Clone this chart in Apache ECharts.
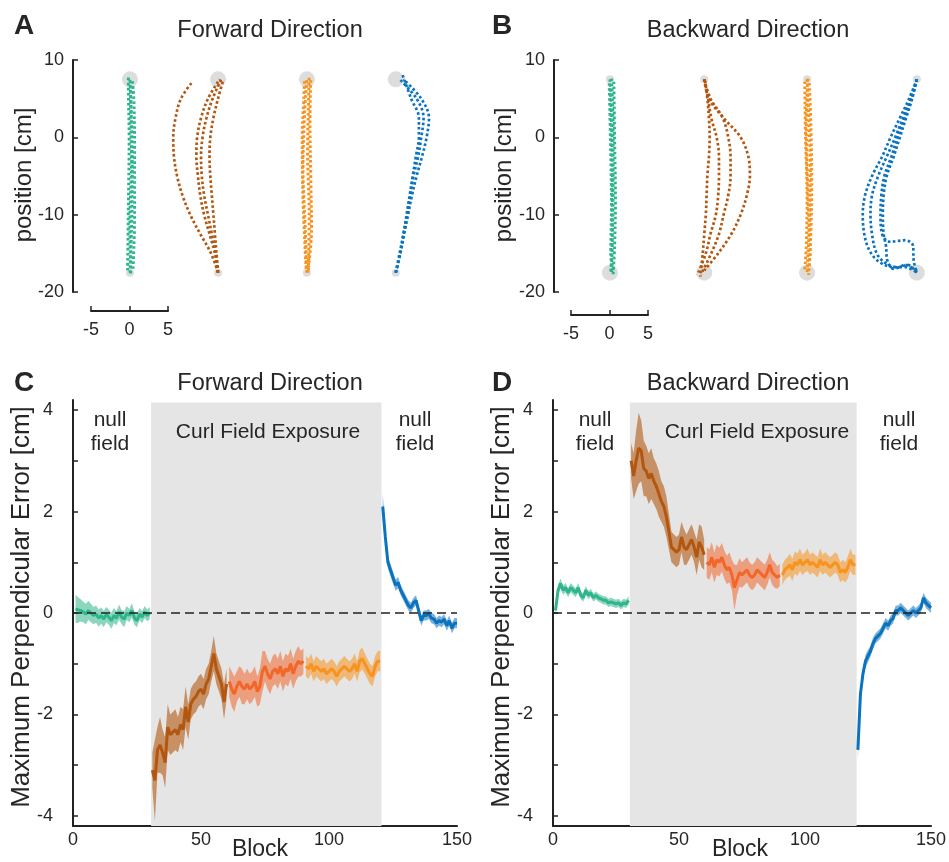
<!DOCTYPE html>
<html><head><meta charset="utf-8">
<script src="https://cdn.jsdelivr.net/npm/echarts@6/dist/echarts.min.js"></script>
<style>html,body{margin:0;padding:0;background:#fff}#c{width:949px;height:862px}</style>
</head><body><div id="c"></div>
<script>
const FONT = "'Liberation Sans', Arial, Helvetica, sans-serif";
const TXT = '#262626';
const cGreen = '#2eb58c', cBrown = '#b3560f', cRed = '#f2662a', cOrange = '#f7931e', cBlue = '#0b73be';

// ---------- Panels A/B : hand trajectories (dx from column, y) [cm] ----------
const targetNear = -17.5, targetFar = 7.5;
const fwdColumns = [0, 11.4, 22.9, 34.4];
const bwdColumns = [0, 12.2, 25.5, 39.7];

const fwdNullTraj = [
  [[0,-17.5],[0.2,-12],[0.3,-5],[0.2,2],[0,7.5]],
  [[0.4,-17],[0.6,-10],[0.6,-2],[0.5,5],[0.3,7.5]],
  [[-0.3,-17.2],[-0.2,-9],[-0.1,0],[-0.2,6.5],[-0.2,7.8]],
  [[0.1,-17.6],[0.0,-11],[0.2,-3],[0.1,4],[0.1,7.2]]
];
const fwdCurlEarlyTraj = [
  [[0,-17.5],[-0.9,-15],[-2.3,-12.5],[-3.6,-10],[-4.6,-7.5],[-5.3,-5],[-5.7,-2.5],[-5.8,0],[-5.5,2.5],[-4.8,5],[-3.3,7.2]],
  [[0,-17.5],[-0.4,-15],[-1.1,-12.5],[-1.8,-10],[-2.3,-7.5],[-2.6,-5],[-2.8,-2.5],[-2.7,0],[-2.2,2.5],[-1.3,5],[0.2,7.5]],
  [[0,-17.5],[-0.3,-15],[-0.8,-12.5],[-1.3,-10],[-1.8,-7.5],[-2.1,-5],[-2.2,-2.5],[-2.0,0],[-1.5,2.5],[-0.7,5],[0.4,7.5]],
  [[0,-17.5],[-0.2,-15],[-0.4,-12.5],[-0.6,-10],[-0.8,-7.5],[-1.0,-5],[-1.1,-2.5],[-1.0,0],[-0.6,2.5],[0.0,5],[0.7,7.5]]
];
const fwdCurlLateTraj = [
  [[0,-17.5],[-0.2,-12],[-0.5,-4],[-0.3,3],[0,7.5]],
  [[0.2,-17.2],[0.3,-10],[0.1,-2],[0.2,4],[0.3,7.8]],
  [[-0.1,-17],[-0.5,-8],[-0.6,0],[-0.4,5],[-0.3,7.3]],
  [[0.1,-17.5],[0.6,-12],[0.5,-5],[0.4,2],[0.5,7.6]]
];
const fwdWashTraj = [
  [[0,-17.5],[0.6,-15],[1.1,-12.5],[1.6,-10],[2.1,-7.5],[2.7,-5],[3.4,-2.5],[4.0,0],[4.3,2.5],[3.3,5],[1.0,7.5]],
  [[0,-17.5],[0.6,-15],[1.0,-12.5],[1.5,-10],[1.9,-7.5],[2.3,-5],[2.9,-2.5],[3.3,0],[3.6,2.5],[2.7,5],[0.5,7.5]],
  [[0,-17.5],[0.5,-15],[1.0,-12.5],[1.4,-10],[1.8,-7.5],[2.2,-5],[2.6,-2.5],[3.0,0],[3.0,2.5],[2.0,5],[0.8,8.3]]
];
const bwdNullTraj = [
  [[0,7.5],[0.2,2],[0.3,-5],[0.3,-12],[0.2,-17.5]],
  [[0.5,7.2],[0.6,0],[0.7,-8],[0.6,-14],[0.4,-17.8]],
  [[-0.1,7],[0.1,-2],[0.2,-9],[0.1,-15],[0.4,-17.2]],
  [[0.2,7.6],[0.4,1],[0.4,-6],[0.3,-13],[0.1,-17.4]]
];
const bwdCurlEarlyTraj = [
  [[0,7.5],[0.6,5],[2.5,2.5],[4.7,0],[5.7,-2.5],[5.9,-5],[5.5,-7.5],[4.7,-10],[3.5,-12.5],[1.8,-15],[0,-17.2]],
  [[0,7.5],[0.8,5],[2.4,2.5],[3.1,0],[3.4,-2.5],[3.4,-5],[3.1,-7.5],[2.5,-10],[1.9,-12.5],[0.9,-15],[-0.4,-17.7]],
  [[0,7.5],[0.5,5],[0.9,2.5],[1.6,0],[1.9,-2.5],[1.9,-5],[1.8,-7.5],[1.5,-10],[0.8,-12.5],[0.2,-15],[-0.9,-17.8]],
  [[0.1,7.3],[0.4,5],[0.6,2.5],[0.7,0],[0.6,-2.5],[0.4,-5],[0.3,-7.5],[0.2,-10],[0,-12.5],[-0.2,-15],[-0.5,-18]]
];
const bwdCurlLateTraj = [
  [[0,7.5],[0.2,3],[0.4,-4],[0.3,-11],[0,-17.5]],
  [[-0.3,7.2],[-0.2,0],[0,-8],[-0.1,-14],[-0.3,-17.2]],
  [[0.3,7],[0.5,1],[0.6,-6],[0.5,-12],[0.2,-17.8]],
  [[0.1,7.6],[-0.1,2],[0.2,-10],[0.4,-15],[0.1,-17.6]]
];
const bwdWashTraj = [
  [[0,7.5],[-1.0,5],[-2.2,2.5],[-3.4,0],[-4.5,-2.5],[-5.8,-5],[-6.7,-7.5],[-7.0,-10],[-6.8,-12.5],[-6.2,-14.5],[-5.0,-16],[-3.0,-16.8],[-1.5,-16.8],[0,-17.5]],
  [[0,7.5],[-0.8,5],[-1.8,2.5],[-2.8,0],[-3.9,-2.5],[-5.0,-5],[-5.8,-7.5],[-6.0,-10],[-5.8,-12.5],[-5.2,-15],[-4.0,-16.3],[-2.5,-16.8],[-1.2,-16.5],[0,-17.5]],
  [[0,7.5],[-0.6,5],[-1.4,2.5],[-2.2,0],[-3.0,-2.5],[-3.9,-5],[-4.3,-7.5],[-4.4,-10],[-4.3,-12.5],[-4.0,-14],[-3.8,-16],[-3.0,-17],[-1.5,-16.5],[0,-17.3]],
  [[0,7.5],[-0.7,5],[-1.6,2.5],[-2.5,0],[-3.3,-2.5],[-4.2,-5],[-4.6,-7.5],[-4.7,-10],[-4.5,-12.5],[-3.5,-13.5],[-1.5,-13.3],[-0.5,-14],[-0.4,-16],[0,-17.5]]
];

// ---------- Panels C/D : maximum perpendicular error per block ----------
const blocksNull = [1,2,3,4,5,6,7,8,9,10,11,12,13,14,15,16,17,18,19,20,21,22,23,24,25,26,27,28,29,30];
const blocksCurlEarly = blocksNull.map(b => b + 30);
const blocksCurlMid = blocksNull.map(b => b + 60);
const blocksCurlLate = blocksNull.map(b => b + 90);
const blocksWash = blocksNull.map(b => b + 120);

const fwdNullMean = [0.08,0.06,0.05,0.02,-0.02,0.05,0.0,-0.05,-0.02,-0.1,-0.05,-0.12,-0.03,-0.08,-0.15,-0.05,-0.1,0.02,-0.08,-0.12,0.0,-0.05,0.05,-0.1,-0.15,-0.02,-0.08,0.02,-0.05,0.0];
const fwdNullErr  = [0.28,0.25,0.22,0.2,0.2,0.19,0.18,0.17,0.17,0.17,0.16,0.16,0.15,0.15,0.16,0.15,0.14,0.15,0.14,0.16,0.14,0.13,0.14,0.13,0.13,0.12,0.12,0.12,0.12,0.12];
const fwdCurlEarlyMean = [-3.1,-3.3,-2.7,-2.6,-2.75,-2.95,-2.25,-2.4,-2.35,-2.3,-2.4,-2.2,-2.3,-1.85,-2.15,-1.8,-1.7,-1.65,-1.55,-1.5,-1.6,-1.4,-1.3,-1.05,-0.8,-1.1,-1.25,-1.4,-1.75,-1.4];
const fwdCurlEarlyErr  = [0.35,0.8,0.45,0.55,0.45,0.5,0.45,0.4,0.4,0.4,0.35,0.35,0.4,0.4,0.35,0.3,0.3,0.3,0.3,0.3,0.3,0.3,0.3,0.3,0.35,0.3,0.3,0.3,0.35,0.3];
const fwdCurlMidMean = [-1.35,-1.5,-1.6,-1.45,-1.35,-1.45,-1.5,-1.4,-1.5,-1.45,-1.35,-1.55,-1.45,-1.15,-1.05,-1.2,-1.3,-1.15,-1.1,-1.2,-1.05,-1.25,-1.1,-1.15,-1.0,-1.2,-1.05,-0.95,-1.0,-0.95];
const fwdCurlMidErr  = [0.3,0.35,0.35,0.3,0.3,0.35,0.3,0.3,0.3,0.3,0.3,0.3,0.35,0.4,0.3,0.3,0.3,0.3,0.3,0.3,0.3,0.3,0.3,0.3,0.3,0.3,0.3,0.3,0.25,0.25];
const fwdCurlLateMean = [-1.05,-1.1,-1.0,-1.15,-1.05,-1.1,-1.15,-1.1,-1.2,-1.15,-1.1,-1.15,-1.25,-1.15,-1.1,-1.05,-1.1,-1.15,-1.1,-1.0,-1.15,-0.95,-0.9,-1.0,-1.1,-1.2,-1.25,-1.05,-0.95,-0.95];
const fwdCurlLateErr  = [0.2,0.2,0.2,0.2,0.2,0.2,0.2,0.2,0.2,0.2,0.2,0.2,0.2,0.2,0.2,0.2,0.2,0.2,0.2,0.2,0.2,0.22,0.22,0.2,0.2,0.2,0.2,0.2,0.2,0.2];
const fwdWashMean = [2.1,1.5,1.0,0.85,0.7,0.55,0.6,0.45,0.35,0.25,0.15,0.1,0.2,0.25,0.05,-0.15,-0.05,-0.05,-0.02,-0.1,-0.12,-0.2,-0.15,-0.18,-0.12,-0.25,-0.15,-0.3,-0.2,-0.2];
const fwdWashErr  = [0.25,0.15,0.12,0.12,0.12,0.11,0.11,0.1,0.1,0.1,0.1,0.1,0.1,0.1,0.1,0.1,0.1,0.1,0.1,0.1,0.1,0.1,0.1,0.1,0.1,0.1,0.1,0.1,0.1,0.1];

const bwdNullMean = [0.05,0.45,0.58,0.45,0.5,0.4,0.5,0.45,0.4,0.5,0.35,0.3,0.45,0.35,0.4,0.3,0.35,0.3,0.28,0.25,0.25,0.2,0.22,0.2,0.18,0.2,0.15,0.2,0.18,0.25];
const bwdNullErr  = [0.1,0.1,0.1,0.09,0.09,0.09,0.09,0.09,0.09,0.09,0.08,0.08,0.08,0.08,0.08,0.08,0.08,0.08,0.08,0.08,0.08,0.08,0.08,0.08,0.08,0.08,0.08,0.08,0.08,0.08];
const bwdCurlEarlyMean = [3.0,2.7,3.0,3.25,3.2,2.85,2.8,2.65,2.75,2.6,2.5,2.35,2.2,2.1,1.9,1.6,1.3,1.25,1.2,1.25,1.5,1.3,1.25,1.35,1.45,1.3,1.1,1.4,1.3,1.15];
const bwdCurlEarlyErr  = [0.35,0.45,0.6,0.7,0.6,0.55,0.5,0.5,0.5,0.45,0.45,0.45,0.4,0.4,0.4,0.35,0.3,0.3,0.3,0.3,0.3,0.35,0.3,0.3,0.3,0.3,0.35,0.35,0.4,0.3];
const bwdCurlMidMean = [1.0,0.95,1.1,0.9,1.05,1.0,1.1,0.95,0.85,0.9,0.75,0.5,0.65,0.8,0.75,0.8,0.85,0.75,0.7,0.75,0.85,0.8,0.75,0.7,0.8,0.95,0.8,0.75,0.7,0.75];
const bwdCurlMidErr  = [0.3,0.3,0.3,0.3,0.3,0.28,0.28,0.28,0.28,0.3,0.3,0.45,0.3,0.28,0.25,0.25,0.25,0.25,0.25,0.25,0.25,0.25,0.25,0.25,0.25,0.25,0.25,0.25,0.22,0.22];
const bwdCurlLateMean = [0.75,0.85,0.9,0.95,0.85,1.0,0.95,1.05,0.95,1.0,1.05,0.95,1.0,0.95,0.9,1.05,0.95,1.0,0.95,0.9,0.95,1.0,0.95,0.8,0.85,0.8,0.9,1.05,0.95,0.95];
const bwdCurlLateErr  = [0.2,0.2,0.2,0.22,0.22,0.22,0.22,0.22,0.2,0.2,0.22,0.2,0.2,0.2,0.2,0.22,0.2,0.2,0.2,0.2,0.2,0.2,0.2,0.2,0.2,0.2,0.22,0.22,0.2,0.2];
const bwdWashMean = [-2.7,-1.6,-1.2,-0.95,-0.85,-0.75,-0.6,-0.5,-0.45,-0.4,-0.3,-0.2,-0.25,-0.15,-0.1,0.05,0.05,0.1,0.05,0.0,-0.05,0.0,0.05,0.0,0.05,0.1,0.3,0.2,0.15,0.1];
const bwdWashErr  = [0.2,0.12,0.12,0.12,0.12,0.11,0.11,0.1,0.1,0.1,0.1,0.1,0.1,0.1,0.1,0.1,0.1,0.1,0.1,0.1,0.1,0.1,0.1,0.1,0.1,0.1,0.1,0.1,0.1,0.1];

const curlStart = 30.5, curlEnd = 120.5;
const errTicks = [-4,-3,-2,-1,0,1,2,3,4];
const errLabels = [-4,-2,0,2,4];

// ---------- build ----------
const series = [];
function traj(gi, col, list, color, w) {
  list.forEach(pts => series.push({
    type: 'line', xAxisIndex: gi, yAxisIndex: gi, z: 5, silent: true,
    data: pts.map(p => [p[0] + col, p[1]]), smooth: 0.35, symbol: 'none',
    lineStyle: { color, width: w || 2.7, type: [2.6, 2.4] }
  }));
}
function targets(gi, cols, bigY, smallY) {
  series.push({ type: 'scatter', xAxisIndex: gi, yAxisIndex: gi, z: 1, silent: true,
    symbolSize: 16, data: cols.map(c => [c, bigY]), itemStyle: { color: '#d4d4d4' } });
  series.push({ type: 'scatter', xAxisIndex: gi, yAxisIndex: gi, z: 1, silent: true,
    symbolSize: 8, data: cols.map(c => [c, smallY]), itemStyle: { color: '#d4d4d4' } });
}
traj(0, fwdColumns[0], fwdNullTraj, cGreen, 3);
traj(0, fwdColumns[1], fwdCurlEarlyTraj, cBrown);
traj(0, fwdColumns[2], fwdCurlLateTraj, cOrange, 3);
traj(0, fwdColumns[3], fwdWashTraj, cBlue);
targets(0, fwdColumns, targetFar, targetNear);
traj(2, bwdColumns[0], bwdNullTraj, cGreen, 3);
traj(2, bwdColumns[1], bwdCurlEarlyTraj, cBrown);
traj(2, bwdColumns[2], bwdCurlLateTraj, cOrange, 3);
traj(2, bwdColumns[3], bwdWashTraj, cBlue);
targets(2, bwdColumns, targetNear, targetFar);

function band(gi, xs, mean, err, color, op) {
  const data = xs.map((x, i) => [x, mean[i] - err[i], mean[i] + err[i]]);
  series.push({
    type: 'custom', xAxisIndex: gi, yAxisIndex: gi, z: 3, silent: true, data,
    encode: { x: 0, y: [1, 2] },
    renderItem(params, api) {
      if (params.dataIndex !== 0) return null;
      const up = [], lo = [];
      data.forEach(d => { up.push(api.coord([d[0], d[2]])); lo.push(api.coord([d[0], d[1]])); });
      return { type: 'polygon', shape: { points: up.concat(lo.reverse()) }, style: { fill: color, opacity: op } };
    }
  });
  series.push({
    type: 'line', xAxisIndex: gi, yAxisIndex: gi, z: 4, silent: true, symbol: 'none',
    data: xs.map((x, i) => [x, mean[i]]), lineStyle: { color, width: 3 }
  });
}
function frame(gi) {
  series.push({ type: 'line', xAxisIndex: gi, yAxisIndex: gi, z: 0, silent: true, symbol: 'none',
    data: [], markArea: { silent: true, itemStyle: { color: '#e5e5e5' },
      data: [[{ coord: [curlStart, -4.2] }, { coord: [curlEnd, 4.15] }]] } });
  series.push({ type: 'line', xAxisIndex: gi, yAxisIndex: gi, z: 10, silent: true, symbol: 'none',
    data: [], markLine: { silent: true, symbol: 'none', label: { show: false },
      lineStyle: { color: '#222', width: 1.6, type: [9, 5] }, data: [{ yAxis: 0 }] } });
}
frame(4); frame(5);
band(4, blocksNull, fwdNullMean, fwdNullErr, cGreen, 0.55);
band(4, blocksCurlEarly, fwdCurlEarlyMean, fwdCurlEarlyErr, cBrown, 0.6);
band(4, blocksCurlMid, fwdCurlMidMean, fwdCurlMidErr, cRed, 0.55);
band(4, blocksCurlLate, fwdCurlLateMean, fwdCurlLateErr, cOrange, 0.55);
band(4, blocksWash, fwdWashMean, fwdWashErr, cBlue, 0.55);
band(5, blocksNull, bwdNullMean, bwdNullErr, cGreen, 0.55);
band(5, blocksCurlEarly, bwdCurlEarlyMean, bwdCurlEarlyErr, cBrown, 0.6);
band(5, blocksCurlMid, bwdCurlMidMean, bwdCurlMidErr, cRed, 0.55);
band(5, blocksCurlLate, bwdCurlLateMean, bwdCurlLateErr, cOrange, 0.55);
band(5, blocksWash, bwdWashMean, bwdWashErr, cBlue, 0.55);

const axLine = { show: true, onZero: false, lineStyle: { color: '#222', width: 2 } };
const tickIn = { show: true, inside: true, length: 5, lineStyle: { color: '#222', width: 1.5 } };
const lbl = (m) => ({ color: TXT, fontSize: 18, fontFamily: FONT, margin: m });

const grid = [
  { left: 73, top: 60, width: 366, height: 232 },
  { left: 91, top: 290, width: 77, height: 21 },
  { left: 554, top: 60, width: 390, height: 232 },
  { left: 571, top: 294, width: 77, height: 21 },
  { left: 73, top: 400, width: 384, height: 426 },
  { left: 553, top: 400, width: 385, height: 426 }
];
const xAxis = [
  { gridIndex: 0, type: 'value', min: -7.37, max: 40, show: false },
  { gridIndex: 1, type: 'value', min: -5, max: 5, interval: 5, axisLine: axLine, axisTick: tickIn, axisLabel: lbl(10), splitLine: { show: false } },
  { gridIndex: 2, type: 'value', min: -7.24, max: 43.21, show: false },
  { gridIndex: 3, type: 'value', min: -5, max: 5, interval: 5, axisLine: axLine, axisTick: tickIn, axisLabel: lbl(10), splitLine: { show: false } },
  { gridIndex: 4, type: 'value', min: 0, max: 150, interval: 50, axisLine: axLine, axisTick: { show: false }, axisLabel: lbl(5), splitLine: { show: false } },
  { gridIndex: 5, type: 'value', min: 0, max: 150, interval: 50, axisLine: axLine, axisTick: { show: false }, axisLabel: lbl(5), splitLine: { show: false } }
];
const errY = (gi) => ({ gridIndex: gi, type: 'value', min: -4.2, max: 4.2, axisLine: axLine,
  axisTick: Object.assign({}, tickIn, { customValues: errTicks }),
  axisLabel: Object.assign(lbl(20), { customValues: errLabels }), splitLine: { show: false } });
const yAxis = [
  { gridIndex: 0, type: 'value', min: -20, max: 10, interval: 10, axisLine: axLine, axisTick: tickIn, axisLabel: lbl(9), splitLine: { show: false } },
  { gridIndex: 1, type: 'value', min: 0, max: 1, show: false },
  { gridIndex: 2, type: 'value', min: -20, max: 10, interval: 10, axisLine: axLine, axisTick: tickIn, axisLabel: lbl(9), splitLine: { show: false } },
  { gridIndex: 3, type: 'value', min: 0, max: 1, show: false },
  errY(4), errY(5)
];

function txt(text, x, y, size, opts) {
  return Object.assign({ type: 'text', x, y, z: 100, silent: true, style: { text, fill: TXT,
    font: (opts && opts.bold ? 'bold ' : '') + size + 'px ' + FONT, textAlign: 'center', textVerticalAlign: 'middle' } },
    opts && opts.rot ? { rotation: Math.PI / 2 } : {});
}
const graphic = [
  txt('A', 24, 26, 28, { bold: true }), txt('B', 502, 26, 28, { bold: true }),
  txt('C', 24, 383, 28, { bold: true }), txt('D', 502, 383, 28, { bold: true }),
  txt('Forward Direction', 270, 31, 23.5), txt('Backward Direction', 748, 31, 23.5),
  txt('Forward Direction', 270, 384, 23.5), txt('Backward Direction', 748, 384, 23.5),
  txt('position [cm]', 24, 175, 24, { rot: true }), txt('position [cm]', 504, 175, 24, { rot: true }),
  txt('Maximum Perpendicular Error [cm]', 22, 607, 26, { rot: true }),
  txt('Maximum Perpendicular Error [cm]', 502, 607, 26, { rot: true }),
  txt('Block', 260, 850, 23), txt('Block', 740, 850, 23),
  txt('null', 110, 420, 21), txt('field', 110, 444, 21),
  txt('Curl Field Exposure', 268, 432, 21),
  txt('null', 415, 420, 21), txt('field', 415, 444, 21),
  txt('null', 595, 420, 21), txt('field', 595, 444, 21),
  txt('Curl Field Exposure', 757, 432, 21),
  txt('null', 899, 420, 21), txt('field', 899, 444, 21)
];

const chart = echarts.init(document.getElementById('c'), null, { renderer: 'canvas' });
chart.setOption({ animation: false, backgroundColor: '#fff', grid, xAxis, yAxis, series, graphic });
</script></body></html>
